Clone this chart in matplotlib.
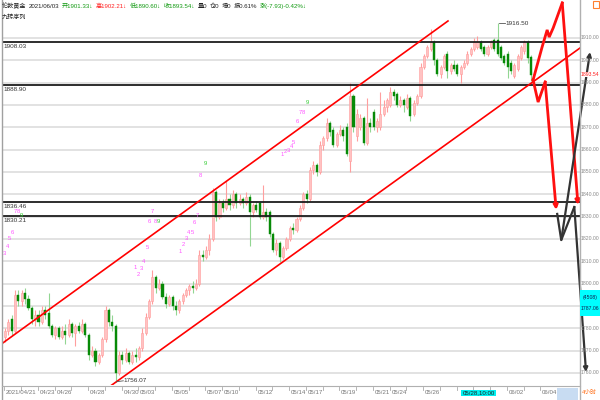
import numpy as np
import matplotlib
matplotlib.use("Agg")
import matplotlib.pyplot as plt
import matplotlib.transforms as mtransforms
from matplotlib import font_manager as fm
from matplotlib.patches import Rectangle
from matplotlib.lines import Line2D

# ---------------- data (4-hour bars, London gold) ----------------
opens = [1776, 1779, 1784, 1779, 1795, 1792, 1796, 1793, 1789, 1784,
         1786, 1783, 1788, 1787, 1781, 1777, 1780, 1776, 1779, 1777,
         1782, 1778, 1781, 1779, 1782, 1777, 1768, 1770, 1765, 1768,
         1775, 1788, 1783, 1781, 1760, 1768, 1766, 1769, 1765, 1768,
         1767, 1771, 1778, 1785, 1792, 1803, 1798, 1800, 1794, 1791,
         1794, 1790, 1788, 1792, 1795, 1797, 1799, 1798, 1800, 1813,
         1812, 1815, 1820, 1841, 1830, 1836, 1834, 1838, 1835, 1840,
         1836, 1838, 1836, 1839, 1832, 1835, 1836, 1830, 1832, 1832,
         1822, 1815, 1818, 1812, 1816, 1820, 1825, 1824, 1829, 1834,
         1840, 1838, 1851, 1853, 1850, 1862, 1865, 1872, 1869, 1862,
         1867, 1869, 1870, 1855, 1884, 1866, 1870, 1874, 1863, 1872,
         1877, 1870, 1870, 1876, 1879, 1880, 1886, 1885, 1880, 1882,
         1879, 1883, 1876, 1881, 1884, 1897, 1902, 1905, 1908, 1900,
         1894, 1897, 1903, 1895, 1898, 1898, 1894, 1897, 1899, 1903,
         1905, 1906, 1908, 1906, 1903, 1906, 1909, 1909, 1906, 1902,
         1903, 1899, 1893, 1896, 1901, 1904, 1908, 1901.33]
highs = [1780, 1784, 1786, 1797, 1797, 1797, 1798, 1795, 1790, 1788,
         1788, 1790, 1790, 1796, 1782, 1781, 1781, 1781, 1782, 1784,
         1783, 1782, 1783, 1784, 1783, 1778, 1772, 1771, 1769, 1776,
         1790, 1789, 1786, 1782, 1770, 1770, 1771, 1770, 1770, 1771,
         1772, 1780, 1787, 1793, 1806, 1804, 1802, 1801, 1796, 1795,
         1795, 1792, 1793, 1796, 1798, 1800, 1801, 1802, 1815, 1815,
         1817, 1822, 1843, 1842, 1838, 1838, 1846, 1840, 1842, 1841,
         1840, 1839, 1841, 1840, 1836, 1837, 1837, 1844, 1834, 1833,
         1823, 1820, 1819, 1817, 1821, 1826, 1827, 1830, 1835, 1841,
         1842, 1852, 1855, 1854, 1864, 1866, 1874, 1873, 1870, 1868,
         1871, 1870, 1872, 1890, 1885, 1878, 1876, 1875, 1883, 1874,
         1878, 1874, 1886, 1882, 1883, 1888, 1887, 1886, 1884, 1883,
         1885, 1884, 1882, 1885, 1899, 1903, 1907, 1914, 1909, 1901,
         1898, 1903, 1904, 1899, 1900, 1899, 1898, 1900, 1904, 1906,
         1910, 1911, 1909, 1907, 1907, 1909, 1910, 1916.5, 1907, 1903,
         1904, 1900, 1899, 1903, 1907, 1909, 1909, 1902.21]
lows = [1774, 1777, 1777, 1778, 1790, 1790, 1791, 1788, 1782, 1781,
        1781, 1782, 1784, 1780, 1776, 1775, 1775, 1775, 1773, 1776,
        1776, 1772, 1778, 1778, 1776, 1766, 1767, 1763, 1764, 1767,
        1774, 1781, 1779, 1756.07, 1759, 1764, 1765, 1764, 1764, 1765,
        1766, 1770, 1777, 1784, 1791, 1796, 1797, 1793, 1789, 1790,
        1788, 1786, 1787, 1791, 1794, 1795, 1796, 1797, 1799, 1810,
        1811, 1813, 1819, 1828, 1829, 1832, 1833, 1833, 1834, 1834,
        1835, 1834, 1835, 1817, 1830, 1832, 1829, 1829, 1828, 1821,
        1814, 1813, 1809.5, 1811, 1815, 1819, 1822, 1823, 1828, 1833,
        1836, 1837, 1849, 1848, 1849, 1860, 1864, 1866, 1861, 1861,
        1866, 1864, 1857, 1850, 1868, 1864, 1869, 1862, 1862, 1868,
        1869, 1868, 1869, 1875, 1877, 1879, 1882, 1879, 1879, 1877,
        1878, 1873, 1875, 1880, 1883, 1896, 1901, 1904, 1898, 1893,
        1892, 1896, 1892, 1894, 1895, 1893, 1890, 1896, 1898, 1902,
        1904, 1905, 1904, 1902, 1902, 1905, 1904, 1902, 1900, 1898,
        1892, 1894, 1892, 1895, 1900, 1903, 1899, 1890.60]
closes = [1779, 1783, 1779, 1795, 1792, 1796, 1793, 1789, 1784, 1786,
          1783, 1788, 1786, 1781, 1777, 1780, 1776, 1779, 1777, 1782,
          1778, 1781, 1779, 1782, 1777, 1768, 1770, 1765, 1768, 1775,
          1788, 1783, 1781, 1760, 1768, 1766, 1769, 1765, 1768, 1767,
          1771, 1778, 1785, 1792, 1803, 1798, 1800, 1794, 1791, 1794,
          1790, 1788, 1792, 1795, 1797, 1799, 1798, 1800, 1813, 1812,
          1815, 1820, 1841, 1830, 1836, 1834, 1838, 1835, 1840, 1836,
          1838, 1836, 1839, 1832, 1835, 1833, 1830, 1832, 1830, 1822,
          1815, 1818, 1812, 1816, 1820, 1825, 1824, 1829, 1834, 1840,
          1838, 1851, 1853, 1850, 1862, 1865, 1872, 1868, 1862, 1867,
          1869, 1866, 1858, 1884, 1870, 1876, 1874, 1863, 1872, 1870,
          1870, 1873, 1876, 1879, 1882, 1886, 1884, 1880, 1882, 1880,
          1883, 1875, 1881, 1884, 1897, 1902, 1906, 1908, 1900, 1894,
          1897, 1902, 1895, 1898, 1896, 1894, 1897, 1899, 1903, 1905,
          1908, 1908, 1905, 1903, 1906, 1908, 1905, 1903, 1901, 1899,
          1897, 1895, 1898, 1902, 1906, 1908, 1901, 1893.54]

date_labels = ['2021/04/21', '04/23', '04/26', '04/28', '04/30', '05/03', '05/05',
               '05/07', '05/10', '05/12', '05/14', '05/17', '05/19', '05/21',
               '05/24', '05/26', '06/02', '06/04']
date_pos = [0, 10, 15, 25, 35, 40, 50, 60, 65, 75, 85, 90, 100, 110, 115, 125, 150, 160]
cursor_label = '05/28,10:00'
cursor_pos = 136.5

price_levels = [1908.03, 1888.90, 1836.46, 1830.21]
axis_values = [1760, 1770, 1780, 1790, 1800, 1810, 1820, 1830, 1840, 1850,
               1860, 1870, 1880, 1890, 1900, 1910]
last_price = 1893.54
cursor_count = '(4508)'
cursor_price = '1787.06'
low_label = 1756.07
high_label = 1916.50

channel_up_x = [-1.5, 132.2]
channel_up_y = [1772.5, 1917.6]
channel_lo_x = [29.85, 171.6]
channel_lo_y = [1752.4, 1905.5]

red_path1_x = [157.6, 160.3, 161.8, 162.4, 163.6, 166.3, 171.0]
red_path1_y = [1891.2, 1906.0, 1913.6, 1910.4, 1914.5, 1925.7, 1835.2]
red_path2_x = [157.6, 159.1, 161.2, 164.5]
red_path2_y = [1891.2, 1881.3, 1890.3, 1833.0]
blk_path1_x = [164.8, 166.0, 169.9, 173.4]
blk_path1_y = [1831.2, 1819.5, 1834.3, 1760.4]
blk_path2_x = [166.0, 174.6]
blk_path2_y = [1819.5, 1903.7]

td_x = [-0.3, 0.6, 1.2, 2.1, 3.0, 3.9, 4.8,
        38.8, 39.7, 40.6, 41.2, 42.4, 43.0, 43.9, 44.8, 45.7,
        52.2, 53.1, 54.0, 54.9, 55.8, 56.4, 57.3, 58.2, 59.7,
        82.7, 83.6, 84.5, 85.4, 86.0, 87.2, 88.1, 89.0, 90.1]
td_y = [1813.7, 1816.4, 1820.0, 1822.7, 1832.1, 1832.1, 1830.7,
        1807.0, 1804.3, 1806.6, 1809.7, 1816.0, 1827.6, 1832.5, 1828.0, 1827.6,
        1814.6, 1817.3, 1820.4, 1822.7, 1822.7, 1827.2, 1830.7, 1848.2, 1854.0,
        1857.6, 1859.0, 1859.8, 1861.6, 1863.0, 1872.8, 1876.4, 1876.4, 1881.3]
td_txt = ['3', '4', '5', '6', '7', '8', '9',
          '1', '2', '3', '4', '5', '6', '7', '8', '9',
          '1', '2', '3', '4', '5', '6', '7', '8', '9',
          '1', '2', '3', '4', '5', '6', '7', '8', '9']

header_items = ['伦敦黄金', '2021/06/03', '开1901.33↓', '高1902.21↓', '低1890.60↓',
                '收1893.54↓', '量0', '仓0', '增0', '振0.61%', '涨(-7.93)-0.42%↓']
header_title = '九转序列'
period_label = '4小时'

# ---------------- fonts ----------------
names = {f.name for f in fm.fontManager.ttflist}
narrow = 'Liberation Sans Narrow' if 'Liberation Sans Narrow' in names else 'Liberation Sans'
FAM = [narrow, 'Noto Sans CJK SC', 'DejaVu Sans']
plt.rcParams['font.family'] = FAM

W, H = 600, 400
fig = plt.figure(figsize=(6, 4), dpi=100)
fig.patch.set_facecolor('white')
ax = fig.add_axes([2 / W, 15 / H, 578 / W, 385 / H])
ax.set_xlim(-0.9, 171.6)
ax.set_ylim(1754.6, 1927.0)
ax.axis('off')


def ftext(x, y, s, **kw):
    return fig.text(x / W, 1 - y / H, s, **kw)


# grid
for v in axis_values:
    ax.axhline(v, color='#dddddd', lw=1.2, zorder=0)

# candles
o = np.array(opens, float); h = np.array(highs, float)
l = np.array(lows, float); c = np.array(closes, float)
idx = np.arange(len(c))
up = c >= o
ax.vlines(idx[up], l[up], h[up], color='#ff9e9e', lw=0.8, zorder=2)
ax.vlines(idx[~up], l[~up], h[~up], color='#92d692', lw=0.8, zorder=2)
bh = np.maximum(np.abs(c - o), 0.35)
bb = np.minimum(o, c)
ax.bar(idx[up], bh[up], bottom=bb[up], width=0.62, color='#ffc2c2',
       edgecolor='#ff9c9c', lw=0.4, zorder=2.5)
ax.bar(idx[~up], bh[~up], bottom=bb[~up], width=0.62, color='#078a07',
       edgecolor='#078a07', lw=0.3, zorder=2.5)

# horizontal price levels
ytr = mtransforms.blended_transform_factory(fig.transFigure, ax.transData)
for v in price_levels:
    ax.axhline(v, color='#1c1c1c', lw=1.3, zorder=3)
    fig.text(3 / W, v - 0.7, f'{v:.2f}', transform=ytr, fontsize=4.6,
             color='#333333', va='top', ha='left', zorder=6)

# channel
ax.plot(channel_up_x, channel_up_y, color='#ff0000', lw=1.2, zorder=4)
ax.plot(channel_lo_x, channel_lo_y, color='#ff0000', lw=1.2, zorder=4)


def arrow_path(xs, ys, color, lw):
    ax.plot(xs[:-1], ys[:-1], color=color, lw=lw, clip_on=False, zorder=5,
            solid_joinstyle='miter')
    ax.annotate('', xy=(xs[-1], ys[-1]), xytext=(xs[-2], ys[-2]),
                arrowprops=dict(arrowstyle='-|>', color=color, lw=lw,
                                shrinkA=0, shrinkB=0, mutation_scale=6),
                annotation_clip=False, zorder=5)


arrow_path(red_path1_x, red_path1_y, '#ff1010', 2.0)
arrow_path(red_path2_x, red_path2_y, '#ff1010', 2.0)
arrow_path(blk_path1_x, blk_path1_y, '#333333', 1.6)
arrow_path(blk_path2_x, blk_path2_y, '#333333', 1.6)

# TD sequential labels
for x, y, t in zip(td_x, td_y, td_txt):
    ax.text(x, y, t, fontsize=4.2, color='#33cc33' if t == '9' else '#ff55ff',
            ha='center', va='center', zorder=6, clip_on=False)

# low / high labels
ax.plot([33.3, 35.3], [low_label, low_label + 0.4], color='#555555', lw=0.6, zorder=6)
ax.text(35.5, low_label + 0.4, f'{low_label:.2f}', fontsize=4.6, color='#333333',
        va='center', ha='left', zorder=6)
ax.plot([147.3, 149.3], [high_label, high_label], color='#555555', lw=0.6, zorder=6)
ax.text(149.5, high_label, f'{high_label:.2f}', fontsize=4.6, color='#333333',
        va='center', ha='left', zorder=6)

# right axis labels
RS = 3.7
for v in axis_values:
    if v == 1790:
        continue
    fig.text(581 / W, v, f'{v:.2f}', transform=ytr, fontsize=RS, color='#888888',
             va='center', ha='left')
fig.text(581 / W, last_price, f'{last_price:.2f}', transform=ytr, fontsize=RS,
         color='#ff2020', va='center', ha='left', zorder=7,
         bbox=dict(boxstyle='square,pad=0.05', facecolor='white', edgecolor='none'))
fig.add_artist(Rectangle((580 / W, 1 - 316 / H), 20 / W, 26 / H, transform=fig.transFigure,
                         facecolor='#00ffff', edgecolor='none', zorder=8))
ftext(583, 297, cursor_count, fontsize=RS, color='#102050', va='center', ha='left', zorder=9)
ftext(581, 309, cursor_price, fontsize=RS, color='#102050', va='center', ha='left', zorder=9)
fig.add_artist(Rectangle((593 / W, 1 - 8 / H), 6 / W, 7 / H, transform=fig.transFigure,
                         facecolor='none', edgecolor='#ff8030', lw=0.8))

# frame lines
fig.add_artist(Line2D([2 / W, 2 / W], [0, 1], color='#a0a0a0', lw=1.0))
fig.add_artist(Line2D([580 / W, 580 / W], [0, 1], color='#b0b0b0', lw=1.0))
fig.add_artist(Line2D([2 / W, 580 / W], [1 - 386 / H, 1 - 386 / H], color='#b0b0b0', lw=0.8))

# date axis
xtr = mtransforms.blended_transform_factory(ax.transData, fig.transFigure)
for d in range(0, 165, 5):
    fig.add_artist(Line2D([d - 0.2, d - 0.2], [1 - 387 / H, 1 - 390 / H], transform=xtr,
                          color='#aaaaaa', lw=0.6))
for lab, p in zip(date_labels, date_pos):
    fig.text(p + 0.3, 1 - 393 / H, lab, transform=xtr, fontsize=4.4, color='#777777',
             va='center', ha='left')
fig.text(cursor_pos, 1 - 393 / H, cursor_label, transform=xtr, fontsize=4.4, color='#222222',
         va='center', ha='left', zorder=9,
         bbox=dict(boxstyle='square,pad=0.15', facecolor='#00f0f0', edgecolor='none'))
fig.add_artist(Rectangle((557 / W, 0), 21 / W, 12 / H, transform=fig.transFigure,
                         facecolor='#c8dcf2', edgecolor='none'))
ftext(582, 393, period_label, fontsize=4.2, color='#ff6a10', va='center', ha='left')

# header (laid out left to right)
green = '#119911'
header_colors = ['#222222', '#222222', green, '#ff2020', green, green,
                 '#222222', '#222222', '#222222', '#222222', green]
renderer = fig.canvas.get_renderer()
xpos = 2.0
for s, col in zip(header_items, header_colors):
    t = ftext(xpos, 6, s, fontsize=4.4, color=col, va='center', ha='left', zorder=9)
    xpos += t.get_window_extent(renderer).width + 2.5
ftext(2, 17, header_title, fontsize=4.4, color='#222222', va='center', ha='left', zorder=9)

fig.savefig('out.png', dpi=100)
